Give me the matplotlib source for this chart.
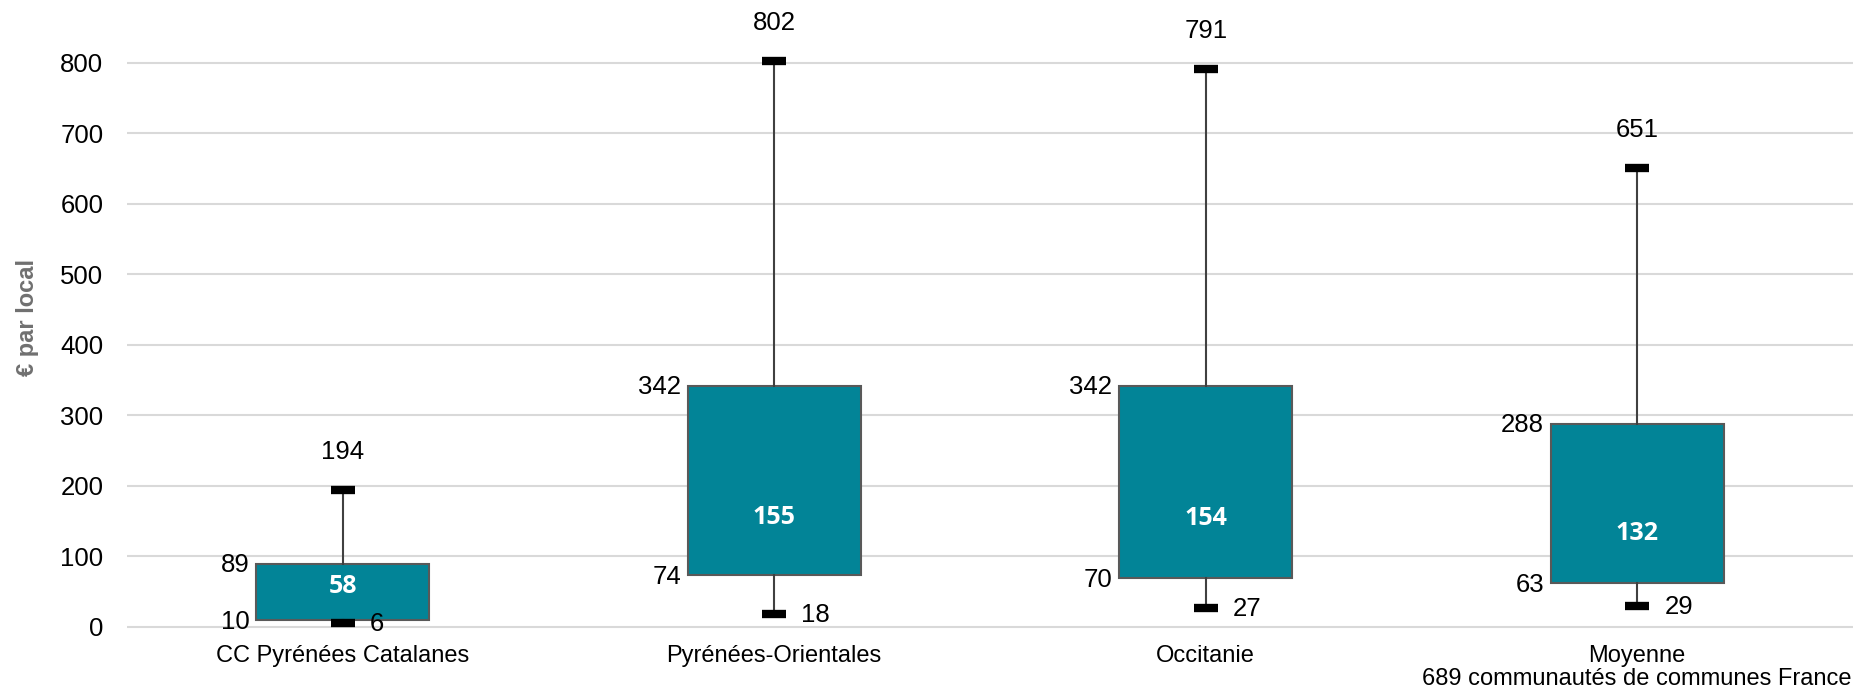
import matplotlib
matplotlib.use("Agg")
import matplotlib.pyplot as plt

# Taxe par local : min, quartiles, médiane, max
territoires = ["CC Pyrénées Catalanes", "Pyrénées-Orientales", "Occitanie",
               "Moyenne\n689 communautés de communes France"]
minimums = [6, 18, 27, 29]
q1 = [10, 74, 70, 63]
medianes = [58, 155, 154, 132]
q3 = [89, 342, 342, 288]
maximums = [194, 802, 791, 651]

TEAL = "#028497"

plt.rcParams["font.family"] = ["Liberation Sans", "DejaVu Sans"]

fig = plt.figure(figsize=(18.53, 6.94), dpi=100)
ax = fig.add_axes([127 / 1853, 60 / 694, 1 - 127 / 1853, 634 / 694])

stats = []
for i, nom in enumerate(territoires):
    stats.append({"label": nom, "whislo": minimums[i], "q1": q1[i],
                  "med": medianes[i], "q3": q3[i], "whishi": maximums[i]})

pos = list(range(len(territoires)))
ax.bxp(stats, positions=pos, widths=0.4, capwidths=0.055, showfliers=False,
       patch_artist=True,
       boxprops=dict(facecolor=TEAL, edgecolor="#595959", linewidth=1.5),
       whiskerprops=dict(color="#404040", linewidth=1.5),
       capprops=dict(color="black", linewidth=6, solid_capstyle="butt"),
       medianprops=dict(linewidth=0), zorder=3)

fs = 18.5
for i, x in enumerate(pos):
    ax.annotate(str(maximums[i]), (x, maximums[i]), xytext=(0, 38),
                textcoords="offset pixels", ha="center", va="center", fontsize=fs)
    ax.annotate(str(q3[i]), (x - 0.2, q3[i]), xytext=(-7, -1),
                textcoords="offset pixels", ha="right", va="center", fontsize=fs)
    ax.annotate(str(q1[i]), (x - 0.2, q1[i]), xytext=(-7, -2),
                textcoords="offset pixels", ha="right", va="center", fontsize=fs)
    ax.annotate(str(minimums[i]), (x, minimums[i]), xytext=(27, -1),
                textcoords="offset pixels", ha="left", va="center", fontsize=fs)
    ax.text(x, medianes[i], str(medianes[i]), ha="center", va="center",
            color="white", fontsize=18, fontweight="bold", family="Open Sans", zorder=5)

ax.set_xlim(-0.5, 3.5)
ax.set_ylim(-10, 889)
ax.set_yticks(range(0, 801, 100))
ax.set_xticks(pos)
ax.set_xticklabels(territoires, fontsize=17, linespacing=1.05)
ax.tick_params(axis="y", labelsize=fs, length=0, pad=17)
ax.tick_params(axis="x", length=0, pad=8)
ax.grid(axis="y", color="#d9d9d9", linewidth=1.5, zorder=0)
ax.set_axisbelow(True)
for s in ax.spines.values():
    s.set_visible(False)

ax.set_ylabel("€ par local", fontsize=17, fontweight="bold", color="#707070")
ax.yaxis.set_label_coords(-0.051, 0.5)

fig.savefig("out.png", dpi=100)
